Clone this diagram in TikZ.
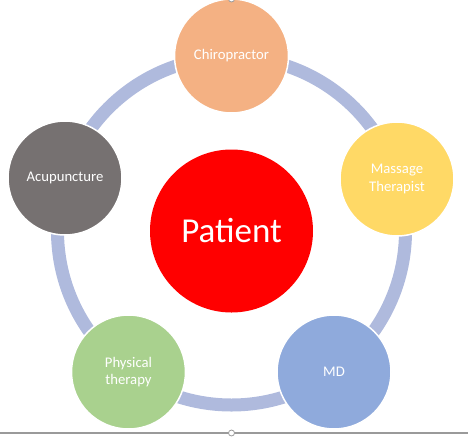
\documentclass[tikz,border=0pt]{standalone}
\usepackage{fontspec}
\setmainfont{Carlito}
\definecolor{ringc}{HTML}{AFBADD}
\definecolor{chiro}{HTML}{F4B183}
\definecolor{mass}{HTML}{FFD966}
\definecolor{acu}{HTML}{767171}
\definecolor{phys}{HTML}{A9D18E}
\definecolor{mdc}{HTML}{8FAADC}
\definecolor{handle}{HTML}{9A9A9A}
\tikzset{
  sat/.style={circle, draw=white, line width=1.5pt, minimum size=114pt, inner sep=0pt,
    text=white, font=\fontsize{14.7}{17.5}\selectfont, align=center},
  hub/.style={circle, fill=red, minimum size=163pt, inner sep=0pt, text=white,
    font=\fontsize{35}{40}\selectfont},
  ring/.style={draw=ringc, line width=13pt},
  handlec/.style={circle, draw=handle, fill=white, line width=0.8pt, minimum size=6pt, inner sep=0pt},
  baseline/.style={draw=handle, line width=1.2pt}
}
\begin{document}
\begin{tikzpicture}[x=1pt,y=-1pt]
\useasboundingbox (0,0) rectangle (468,437);
\coordinate (ctr) at (231.5,231);
\coordinate (lineL) at (0,433);
\coordinate (lineR) at (468,433);
\draw[baseline] (lineL) -- (lineR);
\draw[ring] (ctr) circle[radius=174];
\node[hub] (patient) at (ctr) {Patient};
\node[sat, fill=chiro] (chiro) at (231.5,56) {Chiropractor};
\node[sat, fill=mass] (mass) at (397,179) {Massage\\Therapist};
\node[sat, fill=mdc] (md) at (334,372) {MD};
\node[sat, fill=phys] (phys) at (128.5,372) {Physical\\therapy};
\node[sat, fill=acu] (acu) at (65,178) {Acupuncture};
\node[handlec] (h1) at (231.5,433) {};
\node[handlec] (h2) at (231.5,-1) {};
\end{tikzpicture}
\end{document}
